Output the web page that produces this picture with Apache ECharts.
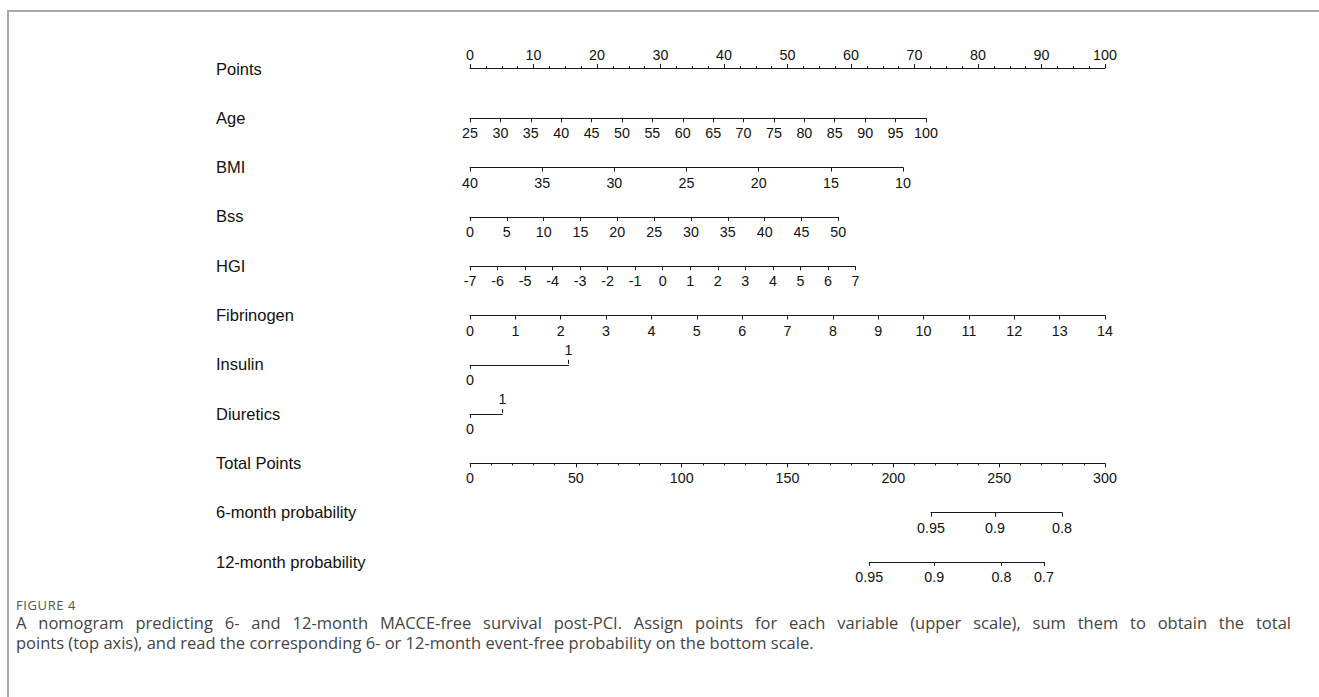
<!DOCTYPE html>
<html>
<head>
<meta charset="utf-8">
<script src="https://cdn.jsdelivr.net/npm/echarts@6/dist/echarts.min.js"></script>
<style>
  html, body { margin: 0; padding: 0; background: #fff; }
  #wrap { position: relative; width: 1319px; height: 697px; overflow: hidden; }
  #frame { position: absolute; left: 7px; top: 10px; width: 1330px; height: 700px;
           border-left: 2px solid #a8a8a8; border-top: 2px solid #a8a8a8; }
  #chart { position: absolute; left: 0; top: 0; width: 1319px; height: 590px; }
  .fig { position: absolute; left: 16px; top: 598px; font-family: "Open Sans", sans-serif;
         font-size: 13px; line-height: 14px; color: #555; letter-spacing: 0.6px; white-space: nowrap; }
  .cap { position: absolute; left: 16px; font-family: "Open Sans", sans-serif;
         font-size: 16.5px; line-height: 20px; color: #444; white-space: nowrap; }
  #cap1 { width: 1275px; text-align: justify; text-align-last: justify; }
</style>
</head>
<body>
<div id="wrap">
  <div id="frame"></div>
  <div id="chart"></div>
  <div class="fig">FIGURE 4</div>
  <div class="cap" id="cap1" style="top:613px">A nomogram predicting 6- and 12-month MACCE-free survival post-PCI. Assign points for each variable (upper scale), sum them to obtain the total</div>
  <div class="cap" id="cap2" style="top:633px">points (top axis), and read the corresponding 6- or 12-month event-free probability on the bottom scale.</div>
</div>
<script>
// ---------------- data ----------------
const variableNames = ['Points', 'Age', 'BMI', 'Bss', 'HGI', 'Fibrinogen', 'Insulin', 'Diuretics',
                       'Total Points', '6-month probability', '12-month probability'];
const pointsRange = [0, 100];
const ageRange = [25, 100];
const bmiRange = [10, 40];
const bssRange = [0, 50];
const hgiRange = [-7, 7];
const fibrinogenRange = [0, 14];
const insulinLevels = [0, 1];
const diureticsLevels = [0, 1];
const totalPointsRange = [0, 300];
// points contributed at the far (right) end of each variable scale
const agePointsMax = 71.8;
const bmiPointsMax = 68.2;
const bssPointsMax = 58.0;
const hgiPointsMax = 60.7;
const fibrinogenPointsMax = 100;
const insulinPointsMax = 15.5;
const diureticsPointsMax = 5.1;
// probability scales: labels and their total-point positions
const prob6Labels = ['0.95', '0.9', '0.8'];
const prob6TotalPoints = [217.8, 248.0, 279.7];
const prob12Labels = ['0.95', '0.9', '0.8', '0.7'];
const prob12TotalPoints = [188.6, 219.3, 251.1, 271.2];

// ---------------- layout ----------------
const X0 = 470, X1 = 1105;          // pixel extent of the 0..100 points scale
const ROW0 = 69, ROWSTEP = 49.3;    // axis line rows
const LABEL_X = 216;
const pxPts = p => X0 + (p / 100) * (X1 - X0);
const pxTot = t => X0 + (t / 300) * (X1 - X0);
const rowY = i => ROW0 + ROWSTEP * i;

const LINE = '#1a1a1a';
const TXT = '#111';
const FONT = '"Liberation Sans", Arial, sans-serif';
const TICKFS = 14.3;

const grids = [], xAxes = [], yAxes = [];

function addRow(i, left, right) {
  grids.push({ left: left, width: right - left, top: rowY(i) - 1, height: 1, containLabel: false });
  yAxes.push({
    gridIndex: i, type: 'category', data: [variableNames[i]],
    axisLine: { show: false }, axisTick: { show: false }, splitLine: { show: false },
    axisLabel: { show: true, align: 'left', margin: left - LABEL_X, fontSize: 16.5,
                 color: TXT, fontFamily: FONT, padding: [2, 0, 0, 0] }
  });
}
function baseX(i, extra) {
  return Object.assign({
    gridIndex: i, type: 'value', position: 'bottom',
    axisLine: { show: true, onZero: false, lineStyle: { color: LINE, width: 1 } },
    axisTick: { show: true, length: 4, lineStyle: { color: LINE } },
    axisLabel: { show: true, margin: 8, fontSize: TICKFS, color: TXT, fontFamily: FONT, showMinLabel: true, showMaxLabel: true },
    splitLine: { show: false }, minorSplitLine: { show: false }
  }, extra);
}

// Points (top axis)
addRow(0, pxPts(0), pxPts(100));
xAxes.push(baseX(0, { position: 'top', min: pointsRange[0], max: pointsRange[1], interval: 10,
  axisLabel: { show: true, margin: 6, fontSize: TICKFS, color: TXT, fontFamily: FONT },
  minorTick: { show: true, splitNumber: 4, length: 2, lineStyle: { color: LINE } } }));
// Age
addRow(1, pxPts(0), pxPts(agePointsMax));
xAxes.push(baseX(1, { min: ageRange[0], max: ageRange[1], interval: 5 }));
// BMI (reversed)
addRow(2, pxPts(0), pxPts(bmiPointsMax));
xAxes.push(baseX(2, { min: bmiRange[0], max: bmiRange[1], interval: 5, inverse: true }));
// Bss
addRow(3, pxPts(0), pxPts(bssPointsMax));
xAxes.push(baseX(3, { min: bssRange[0], max: bssRange[1], interval: 5 }));
// HGI
addRow(4, pxPts(0), pxPts(hgiPointsMax));
xAxes.push(baseX(4, { min: hgiRange[0], max: hgiRange[1], interval: 1 }));
// Fibrinogen
addRow(5, pxPts(0), pxPts(fibrinogenPointsMax));
xAxes.push(baseX(5, { min: fibrinogenRange[0], max: fibrinogenRange[1], interval: 1 }));
// Binary variables (0 below, 1 above)
function addBinary(i, levels, maxPts) {
  addRow(i, pxPts(0), pxPts(maxPts));
  xAxes.push(baseX(i, { min: levels[0], max: levels[1],
    axisTick: { show: true, length: 4, lineStyle: { color: LINE }, customValues: [levels[0]] },
    axisLabel: { show: true, margin: 8, fontSize: TICKFS, color: TXT, fontFamily: FONT, customValues: [levels[0]] } }));
  xAxes.push(baseX(i, { position: 'top', min: levels[0], max: levels[1],
    axisLine: { show: false, onZero: false },
    axisTick: { show: true, length: 4, lineStyle: { color: LINE }, customValues: [levels[1]] },
    axisLabel: { show: true, margin: 7, fontSize: TICKFS, color: TXT, fontFamily: FONT, customValues: [levels[1]] } }));
}
addBinary(6, insulinLevels, insulinPointsMax);
addBinary(7, diureticsLevels, diureticsPointsMax);
// Total points
addRow(8, pxTot(totalPointsRange[0]), pxTot(totalPointsRange[1]));
xAxes.push(baseX(8, { min: totalPointsRange[0], max: totalPointsRange[1], interval: 50,
  minorTick: { show: true, splitNumber: 5, length: 2, lineStyle: { color: LINE } } }));
// Probability scales (positioned on total-points scale)
function addProb(i, tp, labels) {
  const lo = Math.min.apply(null, tp), hi = Math.max.apply(null, tp);
  addRow(i, pxTot(lo), pxTot(hi));
  xAxes.push(baseX(i, { min: lo, max: hi,
    axisTick: { show: true, length: 4, lineStyle: { color: LINE }, customValues: tp },
    axisLabel: { show: true, margin: 8, fontSize: TICKFS, color: TXT, fontFamily: FONT, customValues: tp,
      formatter: v => { const k = tp.findIndex(t => Math.abs(t - v) < 1e-6); return k >= 0 ? labels[k] : ''; } } }));
}
addProb(9, prob6TotalPoints, prob6Labels);
addProb(10, prob12TotalPoints, prob12Labels);

const chart = echarts.init(document.getElementById('chart'), null, { renderer: 'svg' });
chart.setOption({
  animation: false,
  backgroundColor: 'transparent',
  grid: grids,
  xAxis: xAxes,
  yAxis: yAxes,
  series: []
});
</script>
</body>
</html>
